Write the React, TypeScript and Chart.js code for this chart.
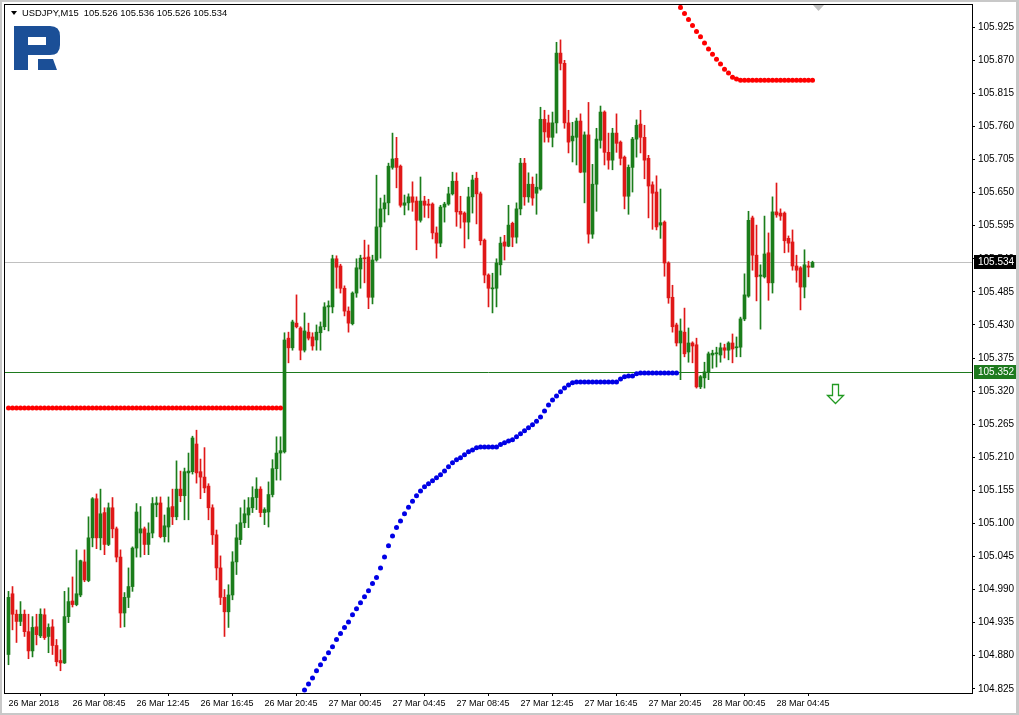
import React, { useEffect, useRef } from 'react';
import { Chart, registerables } from 'chart.js';

Chart.register(...registerables);

const titleText = 'USDJPY,M15  105.526 105.536 105.526 105.534';

const opens = [
  104.882, 104.983, 104.949, 104.937, 104.949, 104.920, 104.888, 104.928, 104.913, 104.948,
  104.912, 104.928, 104.897, 104.872, 104.868, 104.945, 104.971, 104.965, 104.981, 105.036,
  105.005, 105.076, 105.141, 105.076, 105.118, 105.065, 105.126, 105.091, 105.044, 104.951,
  104.977, 104.995, 105.059, 105.084, 105.091, 105.065, 105.084, 105.131, 105.134, 105.078,
  105.094, 105.128, 105.111, 105.157, 105.146, 105.184, 105.186, 105.232, 105.186, 105.177,
  105.162, 105.126, 105.081, 105.026, 104.977, 104.953, 104.981, 105.036, 105.073, 105.101,
  105.114, 105.126, 105.143, 105.157, 105.118, 105.119, 105.148, 105.191, 105.217, 105.219,
  105.408, 105.392, 105.433, 105.425, 105.388, 105.418, 105.410, 105.405, 105.417, 105.427,
  105.460, 105.460, 105.540, 105.528, 105.491, 105.453, 105.432, 105.483, 105.523, 105.541,
  105.543, 105.476, 105.538, 105.593, 105.623, 105.633, 105.692, 105.707, 105.694, 105.629,
  105.633, 105.643, 105.636, 105.604, 105.636, 105.631, 105.631, 105.583, 105.566, 105.626,
  105.631, 105.648, 105.669, 105.619, 105.616, 105.601, 105.643, 105.674, 105.648, 105.571,
  105.513, 105.490, 105.491, 105.530, 105.568, 105.561, 105.599, 105.576, 105.623, 105.699,
  105.643, 105.664, 105.649, 105.656, 105.772, 105.766, 105.742, 105.766, 105.882, 105.865,
  105.766, 105.736, 105.742, 105.769, 105.684, 105.746, 105.581, 105.664, 105.737, 105.784,
  105.717, 105.704, 105.749, 105.734, 105.709, 105.644, 105.692, 105.739, 105.764, 105.742,
  105.707, 105.663, 105.651, 105.596, 105.601, 105.533, 105.476, 105.430, 105.400, 105.418,
  105.385, 105.400, 105.397, 105.327, 105.342, 105.352, 105.380, 105.382, 105.380, 105.392,
  105.388, 105.400, 105.392, 105.393, 105.440, 105.478, 105.608, 105.546, 105.511, 105.510,
  105.550, 105.500, 105.618, 105.616, 105.616, 105.574, 105.568, 105.528, 105.525, 105.493,
  105.528, 105.526,
];

const highs = [
  104.987, 104.995, 104.956, 104.970, 104.956, 104.949, 104.945, 104.949, 104.958, 104.958,
  104.933, 104.940, 104.907, 104.890, 104.987, 104.993, 105.011, 105.056, 105.039, 105.056,
  105.111, 105.143, 105.149, 105.157, 105.126, 105.134, 105.143, 105.094, 105.056, 104.985,
  105.026, 105.061, 105.133, 105.128, 105.094, 105.101, 105.143, 105.144, 105.144, 105.114,
  105.144, 105.157, 105.204, 105.187, 105.192, 105.217, 105.245, 105.255, 105.207, 105.226,
  105.166, 105.131, 105.089, 105.046, 104.990, 104.998, 105.053, 105.098, 105.126, 105.139,
  105.143, 105.161, 105.176, 105.161, 105.126, 105.169, 105.206, 105.244, 105.244, 105.417,
  105.418, 105.438, 105.480, 105.427, 105.450, 105.433, 105.417, 105.430, 105.435, 105.467,
  105.470, 105.546, 105.545, 105.531, 105.495, 105.460, 105.485, 105.540, 105.546, 105.571,
  105.563, 105.546, 105.679, 105.641, 105.646, 105.699, 105.749, 105.742, 105.696, 105.646,
  105.648, 105.668, 105.643, 105.676, 105.644, 105.639, 105.633, 105.593, 105.629, 105.634,
  105.659, 105.684, 105.683, 105.644, 105.618, 105.659, 105.679, 105.684, 105.651, 105.573,
  105.515, 105.516, 105.540, 105.576, 105.579, 105.629, 105.601, 105.633, 105.707, 105.707,
  105.683, 105.676, 105.681, 105.792, 105.787, 105.779, 105.784, 105.900, 105.904, 105.870,
  105.787, 105.767, 105.774, 105.781, 105.751, 105.800, 105.697, 105.757, 105.794, 105.786,
  105.749, 105.757, 105.781, 105.736, 105.711, 105.696, 105.742, 105.771, 105.787, 105.762,
  105.712, 105.668, 105.678, 105.656, 105.603, 105.535, 105.496, 105.433, 105.440, 105.458,
  105.425, 105.402, 105.408, 105.346, 105.368, 105.385, 105.388, 105.393, 105.400, 105.398,
  105.402, 105.415, 105.410, 105.443, 105.515, 105.619, 105.611, 105.596, 105.530, 105.611,
  105.583, 105.643, 105.666, 105.623, 105.618, 105.578, 105.588, 105.546, 105.527, 105.555,
  105.536, 105.536,
];

const lows = [
  104.865, 104.923, 104.902, 104.930, 104.912, 104.875, 104.878, 104.898, 104.910, 104.907,
  104.885, 104.882, 104.863, 104.855, 104.867, 104.935, 104.961, 104.963, 104.978, 105.003,
  105.003, 105.061, 105.058, 105.056, 105.048, 105.063, 105.076, 105.036, 104.927, 104.928,
  104.960, 104.987, 105.044, 105.044, 105.048, 105.048, 105.076, 105.111, 105.076, 105.069,
  105.069, 105.098, 105.106, 105.136, 105.106, 105.106, 105.182, 105.167, 105.141, 105.151,
  105.106, 105.065, 105.006, 104.965, 104.912, 104.927, 104.973, 105.015, 105.065, 105.093,
  105.093, 105.118, 105.123, 105.111, 105.098, 105.094, 105.144, 105.172, 105.172, 105.217,
  105.367, 105.388, 105.425, 105.372, 105.385, 105.405, 105.388, 105.388, 105.388, 105.422,
  105.420, 105.450, 105.491, 105.483, 105.445, 105.418, 105.430, 105.476, 105.491, 105.500,
  105.457, 105.465, 105.536, 105.541, 105.601, 105.613, 105.689, 105.658, 105.626, 105.613,
  105.621, 105.619, 105.555, 105.601, 105.609, 105.608, 105.573, 105.541, 105.560, 105.601,
  105.629, 105.646, 105.594, 105.591, 105.558, 105.573, 105.616, 105.598, 105.563, 105.500,
  105.460, 105.450, 105.460, 105.513, 105.538, 105.560, 105.560, 105.566, 105.613, 105.629,
  105.634, 105.629, 105.614, 105.654, 105.734, 105.734, 105.726, 105.749, 105.854, 105.757,
  105.716, 105.701, 105.696, 105.683, 105.633, 105.566, 105.574, 105.619, 105.724, 105.696,
  105.689, 105.688, 105.717, 105.696, 105.623, 105.614, 105.651, 105.709, 105.716, 105.673,
  105.608, 105.589, 105.588, 105.574, 105.511, 105.466, 105.418, 105.395, 105.339, 105.377,
  105.368, 105.367, 105.325, 105.324, 105.325, 105.339, 105.358, 105.360, 105.368, 105.375,
  105.372, 105.367, 105.377, 105.377, 105.437, 105.476, 105.521, 105.470, 105.423, 105.508,
  105.471, 105.483, 105.609, 105.604, 105.550, 105.551, 105.521, 105.501, 105.455, 105.475,
  105.510, 105.526,
];

const closes = [
  104.977, 104.949, 104.937, 104.949, 104.920, 104.888, 104.927, 104.915, 104.949, 104.910,
  104.927, 104.897, 104.870, 104.868, 104.945, 104.970, 104.965, 104.983, 105.038, 105.006,
  105.076, 105.141, 105.076, 105.116, 105.065, 105.126, 105.091, 105.044, 104.951, 104.977,
  104.995, 105.059, 105.119, 105.091, 105.065, 105.084, 105.133, 105.134, 105.078, 105.096,
  105.126, 105.111, 105.157, 105.146, 105.186, 105.187, 105.242, 105.184, 105.177, 105.159,
  105.126, 105.081, 105.026, 104.977, 104.953, 104.981, 105.036, 105.076, 105.101, 105.116,
  105.126, 105.143, 105.157, 105.118, 105.123, 105.148, 105.191, 105.217, 105.221, 105.405,
  105.392, 105.435, 105.427, 105.388, 105.420, 105.408, 105.395, 105.418, 105.427, 105.460,
  105.462, 105.540, 105.526, 105.491, 105.453, 105.433, 105.483, 105.525, 105.541, 105.540,
  105.476, 105.538, 105.593, 105.623, 105.633, 105.694, 105.706, 105.692, 105.629, 105.633,
  105.643, 105.634, 105.604, 105.636, 105.629, 105.629, 105.583, 105.566, 105.626, 105.631,
  105.648, 105.669, 105.618, 105.614, 105.601, 105.643, 105.671, 105.648, 105.570, 105.513,
  105.491, 105.491, 105.533, 105.566, 105.561, 105.596, 105.576, 105.623, 105.699, 105.643,
  105.664, 105.641, 105.659, 105.772, 105.751, 105.742, 105.766, 105.882, 105.865, 105.766,
  105.734, 105.744, 105.769, 105.684, 105.746, 105.581, 105.664, 105.739, 105.784, 105.717,
  105.704, 105.749, 105.732, 105.707, 105.644, 105.692, 105.739, 105.762, 105.742, 105.704,
  105.661, 105.649, 105.593, 105.600, 105.533, 105.475, 105.427, 105.400, 105.420, 105.382,
  105.400, 105.395, 105.327, 105.344, 105.352, 105.382, 105.383, 105.383, 105.392, 105.388,
  105.400, 105.390, 105.393, 105.440, 105.480, 105.604, 105.546, 105.510, 105.513, 105.548,
  105.500, 105.618, 105.613, 105.611, 105.570, 105.566, 105.528, 105.521, 105.493, 105.530,
  105.526, 105.534,
];

// Parabolic SAR (index of first dot + values)
const sarLowStart = 0;
const sarLow = [
  105.292, 105.292, 105.292, 105.292, 105.292, 105.292, 105.292, 105.292, 105.292, 105.292,
  105.292, 105.292, 105.292, 105.292, 105.292, 105.292, 105.292, 105.292, 105.292, 105.292,
  105.292, 105.292, 105.292, 105.292, 105.292, 105.292, 105.292, 105.292, 105.292, 105.292,
  105.292, 105.292, 105.292, 105.292, 105.292, 105.292, 105.292, 105.292, 105.292, 105.292,
  105.292, 105.292, 105.292, 105.292, 105.292, 105.292, 105.292, 105.292, 105.292, 105.292,
  105.292, 105.292, 105.292, 105.292, 105.292, 105.292, 105.292, 105.292, 105.292, 105.292,
  105.292, 105.292, 105.292, 105.292, 105.292, 105.292, 105.292, 105.292, 105.292,
];
const sarBlueStart = 74;
const sarBlue = [
  104.823, 104.833, 104.843, 104.855, 104.865, 104.875, 104.885, 104.895, 104.907, 104.917,
  104.927, 104.936, 104.948, 104.958, 104.968, 104.978, 104.988, 105.000, 105.010, 105.026,
  105.044, 105.063, 105.079, 105.093, 105.104, 105.116, 105.127, 105.137, 105.146, 105.154,
  105.161, 105.166, 105.171, 105.176, 105.181, 105.187, 105.194, 105.201, 105.206, 105.209,
  105.214, 105.219, 105.222, 105.226, 105.227, 105.227, 105.227, 105.227, 105.227, 105.231,
  105.234, 105.237, 105.239, 105.244, 105.249, 105.254, 105.259, 105.264, 105.270, 105.277,
  105.287, 105.297, 105.305, 105.312, 105.319, 105.325, 105.330, 105.334, 105.335, 105.335,
  105.335, 105.335, 105.335, 105.335, 105.335, 105.335, 105.335, 105.335, 105.335, 105.340,
  105.344, 105.345, 105.345, 105.349, 105.350, 105.350, 105.350, 105.350, 105.350, 105.350,
  105.350, 105.350, 105.350, 105.350,
];
const sarHighStart = 168;
const sarHigh = [
  105.958, 105.948, 105.938, 105.928, 105.918, 105.909, 105.899, 105.889, 105.880, 105.872,
  105.864, 105.855, 105.849, 105.842, 105.839, 105.837, 105.837, 105.837, 105.837, 105.837,
  105.837, 105.837, 105.837, 105.837, 105.837, 105.837, 105.837, 105.837, 105.837, 105.837,
  105.837, 105.837, 105.837, 105.837,
];

const yTickValues = [
  104.825, 104.88, 104.935, 104.99, 105.045, 105.1, 105.155, 105.21, 105.265, 105.32, 105.375,
  105.43, 105.485, 105.54, 105.595, 105.65, 105.705, 105.76, 105.815, 105.87, 105.925,
];
const yMin = 104.818;
const yMax = 105.962;

const xTickIndexes = [0, 16, 32, 48, 64, 80, 96, 112, 128, 144, 160, 176, 192];
const xTickLabels = [
  '26 Mar 2018', '26 Mar 08:45', '26 Mar 12:45', '26 Mar 16:45', '26 Mar 20:45',
  '27 Mar 00:45', '27 Mar 04:45', '27 Mar 08:45', '27 Mar 12:45', '27 Mar 16:45',
  '27 Mar 20:45', '28 Mar 00:45', '28 Mar 04:45',
];
const xMin = -0.875;
const xMax = 240.875;

const bidPrice = 105.534;
const levelPrice = 105.352;
const arrowIndex = 206.6;
const arrowPrice = 105.331;

const BULL = '#1b7d1b';
const BEAR = '#e01818';
const LEVEL_GREEN = '#1e7a1e';
const FONT = '"Liberation Sans", Arial, sans-serif';

const mt4Plugin = {
  id: 'mt4Decor',
  beforeDraw(chart: any) {
    const { ctx, width, height } = chart;
    ctx.save();
    ctx.fillStyle = '#ffffff';
    ctx.fillRect(0, 0, width, height);
    ctx.restore();
  },
  beforeDatasetsDraw(chart: any) {
    const { ctx, chartArea: a, scales } = chart;
    const ys = scales.y;
    ctx.save();
    ctx.lineWidth = 1;
    const yb = Math.round(ys.getPixelForValue(bidPrice)) + 0.5;
    ctx.strokeStyle = '#c0c0c0';
    ctx.beginPath();
    ctx.moveTo(a.left, yb);
    ctx.lineTo(a.right, yb);
    ctx.stroke();
    const yl = Math.round(ys.getPixelForValue(levelPrice)) + 0.5;
    ctx.strokeStyle = LEVEL_GREEN;
    ctx.beginPath();
    ctx.moveTo(a.left, yl);
    ctx.lineTo(a.right, yl);
    ctx.stroke();
    ctx.restore();
  },
  afterDraw(chart: any) {
    const { ctx, chartArea: a, scales, width, height } = chart;
    const ys = scales.y;
    const xs = scales.x;
    ctx.save();

    // outer window border
    ctx.fillStyle = '#c8c8c8';
    ctx.fillRect(0, 0, width, 2);
    ctx.fillRect(0, 0, 2, height);
    ctx.fillRect(width - 3, 0, 3, height);
    ctx.fillRect(0, height - 2, width, 2);

    // chart frame
    ctx.strokeStyle = '#000000';
    ctx.lineWidth = 1;
    ctx.strokeRect(a.left - 0.5, a.top - 0.5, a.right - a.left + 1, a.bottom - a.top + 1);

    // title
    ctx.fillStyle = '#000000';
    ctx.beginPath();
    ctx.moveTo(11, 11);
    ctx.lineTo(17, 11);
    ctx.lineTo(14, 15);
    ctx.closePath();
    ctx.fill();
    ctx.font = '9.4px ' + FONT;
    ctx.textBaseline = 'middle';
    ctx.textAlign = 'left';
    ctx.fillText(titleText, 22, 13.5);

    // logo
    ctx.fillStyle = '#1b4f97';
    ctx.beginPath();
    ctx.moveTo(14, 26);
    ctx.lineTo(50, 26);
    ctx.quadraticCurveTo(60, 26, 60, 36);
    ctx.lineTo(60, 45);
    ctx.quadraticCurveTo(60, 55, 50, 55);
    ctx.lineTo(28, 55);
    ctx.lineTo(28, 70);
    ctx.lineTo(14, 70);
    ctx.closePath();
    ctx.moveTo(28, 37);
    ctx.lineTo(28, 45);
    ctx.lineTo(46, 45);
    ctx.lineTo(46, 37);
    ctx.closePath();
    ctx.fill('evenodd');
    ctx.beginPath();
    ctx.moveTo(38, 59);
    ctx.lineTo(53, 59);
    ctx.lineTo(57, 70);
    ctx.lineTo(38, 70);
    ctx.closePath();
    ctx.fill();

    // chart shift marker
    ctx.fillStyle = '#c0c0c0';
    ctx.beginPath();
    ctx.moveTo(813, a.top);
    ctx.lineTo(824, a.top);
    ctx.lineTo(818.5, a.top + 6);
    ctx.closePath();
    ctx.fill();

    // sell arrow
    const ax = Math.round(xs.getPixelForValue(arrowIndex)) + 0.5;
    const ay = Math.round(ys.getPixelForValue(arrowPrice)) + 0.5;
    ctx.strokeStyle = '#229a22';
    ctx.lineWidth = 1.3;
    ctx.beginPath();
    ctx.moveTo(ax - 3, ay);
    ctx.lineTo(ax + 3, ay);
    ctx.lineTo(ax + 3, ay + 11);
    ctx.lineTo(ax + 8, ay + 11);
    ctx.lineTo(ax, ay + 19);
    ctx.lineTo(ax - 8, ay + 11);
    ctx.lineTo(ax - 3, ay + 11);
    ctx.closePath();
    ctx.stroke();

    // price labels on axis
    const box = (price: number, bg: string) => {
      const y = Math.round(ys.getPixelForValue(price));
      ctx.fillStyle = bg;
      ctx.fillRect(a.right + 2, y - 7, 42, 14);
      ctx.fillStyle = '#ffffff';
      ctx.font = '10px ' + FONT;
      ctx.textBaseline = 'middle';
      ctx.textAlign = 'left';
      ctx.fillText(price.toFixed(3), a.right + 6, y + 0.5);
    };
    box(bidPrice, '#000000');
    box(levelPrice, LEVEL_GREEN);

    ctx.restore();
  },
};

export default function App() {
  const ref = useRef<HTMLCanvasElement>(null);

  useEffect(() => {
    const canvas = ref.current;
    if (!canvas) return;
    const idx = opens.map((_, i) => i);
    const colors = idx.map((i) => (closes[i] >= opens[i] ? BULL : BEAR));
    const bodies = idx.map((i) => ({ x: i, y: [opens[i], closes[i]] }));
    const wicks = idx.map((i) => ({ x: i, y: [lows[i], highs[i]] }));
    const pts = (start: number, arr: number[]) => arr.map((v, k) => ({ x: start + k, y: v }));
    const dot = (data: any[], color: string) => ({
      type: 'line' as const,
      data,
      showLine: false,
      pointRadius: 2.5,
      pointBackgroundColor: color,
      pointBorderWidth: 0,
      pointHoverRadius: 2.5,
      order: 1,
    });

    const chart = new Chart(canvas, {
      type: 'bar',
      data: {
        datasets: [
          dot(pts(sarLowStart, sarLow), '#ff0000') as any,
          dot(pts(sarBlueStart, sarBlue), '#0000e6') as any,
          dot(pts(sarHighStart, sarHigh), '#ff0000') as any,
          {
            type: 'bar',
            data: wicks as any,
            backgroundColor: colors,
            borderWidth: 0,
            barThickness: 1,
            grouped: false,
            order: 3,
          },
          {
            type: 'bar',
            data: bodies as any,
            backgroundColor: colors,
            borderWidth: 0,
            barThickness: 3,
            minBarLength: 1,
            grouped: false,
            order: 2,
          },
        ],
      },
      options: {
        responsive: false,
        devicePixelRatio: 1,
        animation: false,
        events: [],
        layout: { padding: { left: 5, top: 5, right: 0, bottom: 0 } },
        plugins: { legend: { display: false }, tooltip: { enabled: false } },
        scales: {
          x: {
            type: 'linear',
            min: xMin,
            max: xMax,
            offset: false,
            grid: { display: true, drawOnChartArea: false, drawTicks: true, tickLength: 3, color: '#000000' },
            border: { display: false },
            afterBuildTicks: (s: any) => {
              s.ticks = xTickIndexes.map((v) => ({ value: v }));
            },
            afterFit: (s: any) => {
              s.height = 22;
              s.paddingLeft = 0;
              s.paddingRight = 0;
            },
            ticks: {
              autoSkip: false,
              maxRotation: 0,
              minRotation: 0,
              align: 'start',
              padding: 2,
              color: '#000000',
              font: { family: FONT, size: 9 },
              callback: (_v: any, i: number) => xTickLabels[i] ?? '',
            },
          },
          y: {
            type: 'linear',
            position: 'right',
            min: yMin,
            max: yMax,
            grid: { display: true, drawOnChartArea: false, drawTicks: true, tickLength: 3, color: '#000000' },
            border: { display: false },
            afterBuildTicks: (s: any) => {
              s.ticks = yTickValues.map((v) => ({ value: v }));
            },
            afterFit: (s: any) => {
              s.width = 47;
              s.paddingTop = 0;
              s.paddingBottom = 0;
            },
            ticks: {
              padding: 3,
              color: '#000000',
              font: { family: FONT, size: 10 },
              callback: (v: any) => Number(v).toFixed(3),
            },
          },
        },
      } as any,
      plugins: [mt4Plugin],
    });

    return () => chart.destroy();
  }, []);

  return (
    <div style={{ position: 'absolute', left: 0, top: 0, width: 1019, height: 715 }}>
      <canvas ref={ref} width={1019} height={715} style={{ display: 'block' }} />
    </div>
  );
}
